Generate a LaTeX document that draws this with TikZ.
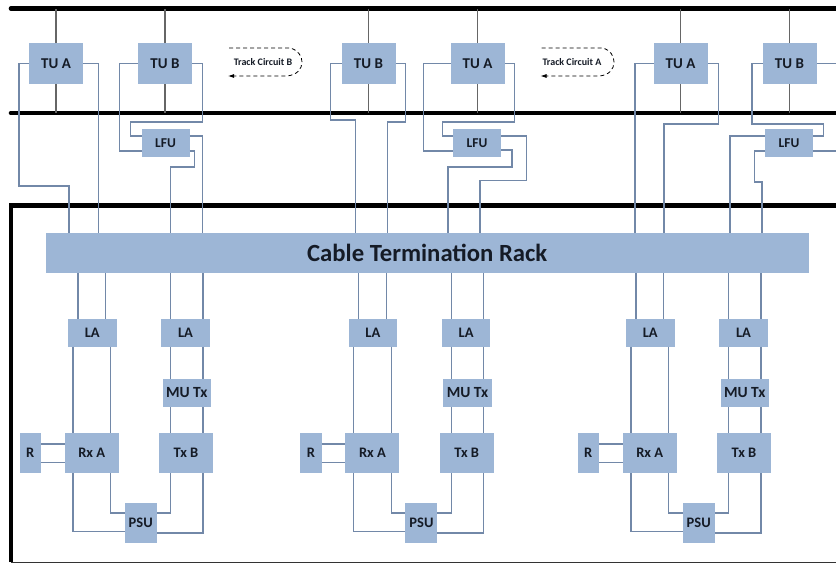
\documentclass[tikz,border=0pt]{standalone}
\usepackage{fontspec}
\setmainfont{Carlito}
\usetikzlibrary{arrows.meta}
\definecolor{boxblue}{HTML}{9DB6D6}
\definecolor{wireblue}{HTML}{7288A8}
\definecolor{inkdark}{HTML}{151B26}
\tikzset{
  x=1pt,y=-1pt,
  rail/.style={line width=4.6pt,black},
  stub/.style={line width=1.2pt,black!60},
  wire/.style={line width=1.3pt,wireblue},
  box/.style={fill=boxblue,draw=none,inner sep=0,outer sep=0,text=inkdark,font=\bfseries\fontsize{14.5}{16}\selectfont},
  tubox/.style={box,minimum width=54pt,minimum height=41pt,font=\bfseries\fontsize{15}{17}\selectfont},
  lfubox/.style={box,minimum width=48pt,minimum height=27.5pt,font=\bfseries\fontsize{13.5}{15}\selectfont},
  labox/.style={box,minimum width=48.5pt,minimum height=27.5pt},
  mubox/.style={box,minimum width=48.5pt,minimum height=28pt,font=\bfseries\fontsize{15.5}{17}\selectfont},
  rxbox/.style={box,minimum width=54pt,minimum height=40pt},
  rbox/.style={box,minimum width=21.5pt,minimum height=40pt},
  psubox/.style={box,minimum width=32pt,minimum height=40.5pt},
  track/.style={line width=.8pt,black,dash pattern=on 4pt off 3pt},
  tracktext/.style={inner sep=0,text=inkdark,font=\bfseries\fontsize{10}{12}\selectfont},
}
\begin{document}
\begin{tikzpicture}
\useasboundingbox (0,0) rectangle (836,563);
% rails and equipment room frame
\coordinate (railA) at (11,8.5);
\coordinate (railAe) at (836,8.5);
\coordinate (railB) at (11,113);
\coordinate (railBe) at (836,113);
\coordinate (roomTL) at (11,205.5);
\coordinate (roomTR) at (836,205.5);
\coordinate (roomBL) at (11,562);
\coordinate (roomBR) at (836,562);
\draw[rail,line cap=round] (railA) -- (railAe);
\draw[rail,line cap=round] (railB) -- (railBe);
\draw[line width=.9pt,black!80] (roomBL) -- (roomBR);
\draw[rail,line join=miter] (roomBL) -- (roomTL) -- (roomTR);
% rack
\node[box,minimum width=762.5pt,minimum height=40pt,font=\bfseries\fontsize{24.7}{28}\selectfont] (rack) at (427.25,253) {Cable Termination Rack};
% tuning units
\node[tubox] (tu1) at (56,63.5) {TU A};
\node[tubox] (tu2) at (165,63.5) {TU B};
\node[tubox] (tu3) at (368.5,63.5) {TU B};
\node[tubox] (tu4) at (477.5,63.5) {TU A};
\node[tubox] (tu5) at (680.5,63.5) {TU A};
\node[tubox] (tu6) at (789.5,63.5) {TU B};
\foreach \n in {1,...,6}{
  \draw[stub] (tu\n.north) -- (tu\n.north |- railA);
  \draw[stub] (tu\n.south) -- (tu\n.south |- railB);
}
% LFUs
\node[lfubox] (lfu1) at (165.5,143) {LFU};
\node[lfubox] (lfu2) at (477,143) {LFU};
\node[lfubox] (lfu3) at (789,143) {LFU};
% track circuit arrows
\coordinate (tbS) at (229,48);
\coordinate (tbE) at (228,76);
\node[tracktext] (tcb) at (263,62) {Track Circuit B};
\draw[track,-{Latex[length=6pt,width=4pt]}] (tbS) -- (290,48) .. controls (298,50) and (302,56) .. (302,62) .. controls (302,69) and (297,75) .. (287,76) -- (tbE);
\coordinate (taS) at (541.5,48);
\coordinate (taE) at (540.5,76);
\node[tracktext] (tca) at (572,62) {Track Circuit A};
\draw[track,-{Latex[length=6pt,width=4pt]}] (taS) -- (602.5,48) .. controls (610.5,50) and (614,56) .. (614,62) .. controls (614,69) and (609.5,75) .. (599.5,76) -- (taE);
% wires: section 1
\draw[wire] (tu1.west) -- (19,63.5) -- (19,186) -- (69,186) -- (69,0 |- rack.north);
\draw[wire] (tu1.east) -- (98.5,63.5) -- (98.5,0 |- rack.north);
\draw[wire] (tu2.west) -- (119.5,63.5) -- (119.5,151) -- (lfu1.west |- 0,151);
\draw[wire] (tu2.east) -- (202.5,63.5) -- (202.5,122) -- (130.5,122) -- (130.5,136) -- (lfu1.west |- 0,136);
\draw[wire] (lfu1.east |- 0,136) -- (202.5,136) -- (202.5,0 |- rack.north);
\draw[wire] (lfu1.east |- 0,151) -- (194.5,151) -- (194.5,167) -- (170.5,167) -- (170.5,0 |- rack.north);
% wires: section 2
\draw[wire] (tu3.west) -- (330.5,63.5) -- (330.5,120) -- (355.5,120) -- (355.5,0 |- rack.north);
\draw[wire] (tu3.east) -- (405.5,63.5) -- (405.5,122) -- (387.5,122) -- (387.5,0 |- rack.north);
\draw[wire] (tu4.west) -- (423.5,63.5) -- (423.5,151) -- (lfu2.west |- 0,151);
\draw[wire] (tu4.east) -- (514.5,63.5) -- (514.5,122) -- (442.5,122) -- (442.5,136) -- (lfu2.west |- 0,136);
\draw[wire] (lfu2.east |- 0,136) -- (526.5,136) -- (526.5,180.5) -- (480,180.5) -- (480,0 |- rack.north);
\draw[wire] (lfu2.east |- 0,150) -- (512,150) -- (512,167) -- (448,167) -- (448,0 |- rack.north);
% wires: section 3
\draw[wire] (tu5.west) -- (635,63.5) -- (635,0 |- rack.north);
\draw[wire] (tu5.east) -- (718.5,63.5) -- (718.5,124) -- (664,124) -- (664,0 |- rack.north);
\draw[wire] (tu6.west) -- (752,63.5) -- (752,124) -- (823.5,124) -- (823.5,136) -- (lfu3.east |- 0,136);
\draw[wire] (tu6.east) -- (836,63.5);
\draw[wire] (lfu3.east |- 0,151) -- (836,151);
\draw[wire] (lfu3.west |- 0,136) -- (730,136) -- (730,0 |- rack.north);
\draw[wire] (lfu3.west |- 0,151) -- (754.5,151) -- (754.5,182) -- (762,182) -- (762,0 |- rack.north);
% equipment groups
\foreach \i/\d in {1/0,2/280.7,3/558}{
  \node[labox] (laA\i) at (92.25+\d,332.75) {LA};
  \node[labox] (laB\i) at (185.5+\d,332.75) {LA};
  \node[mubox] (mu\i) at (186.75+\d,393) {MU Tx};
  \node[rxbox] (rx\i) at (91.75+\d,453) {Rx A};
  \node[rxbox] (tx\i) at (186+\d,453) {Tx B};
  \node[rbox] (r\i) at (30.25+\d,453) {R};
  \node[psubox] (psu\i) at (140.75+\d,522.75) {PSU};
  \draw[wire] (78+\d,0 |- rack.south) -- (78+\d,0 |- laA\i.north);
  \draw[wire] (105.5+\d,0 |- rack.south) -- (105.5+\d,0 |- laA\i.north);
  \draw[wire] (170.5+\d,0 |- rack.south) -- (170.5+\d,0 |- laB\i.north);
  \draw[wire] (203+\d,0 |- rack.south) -- (203+\d,0 |- laB\i.north);
  \draw[wire] (73+\d,0 |- laA\i.south) -- (73+\d,0 |- rx\i.north);
  \draw[wire] (110.5+\d,0 |- laA\i.south) -- (110.5+\d,0 |- rx\i.north);
  \draw[wire] (170.5+\d,0 |- laB\i.south) -- (170.5+\d,0 |- mu\i.north);
  \draw[wire] (203+\d,0 |- laB\i.south) -- (203+\d,0 |- mu\i.north);
  \draw[wire] (170.5+\d,0 |- mu\i.south) -- (170.5+\d,0 |- tx\i.north);
  \draw[wire] (203+\d,0 |- mu\i.south) -- (203+\d,0 |- tx\i.north);
  \draw[wire] (r\i.east |- 0,444) -- (rx\i.west |- 0,444);
  \draw[wire] (r\i.east |- 0,462.5) -- (rx\i.west |- 0,462.5);
  \draw[wire] (73+\d,0 |- rx\i.south) -- (73+\d,531.5) -- (psu\i.west |- 0,531.5);
  \draw[wire] (110.5+\d,0 |- rx\i.south) -- (110.5+\d,513) -- (psu\i.west |- 0,513);
  \draw[wire] (170.5+\d,0 |- tx\i.south) -- (170.5+\d,513) -- (psu\i.east |- 0,513);
  \draw[wire] (203+\d,0 |- tx\i.south) -- (203+\d,533) -- (psu\i.east |- 0,533);
}
\end{tikzpicture}
\end{document}
